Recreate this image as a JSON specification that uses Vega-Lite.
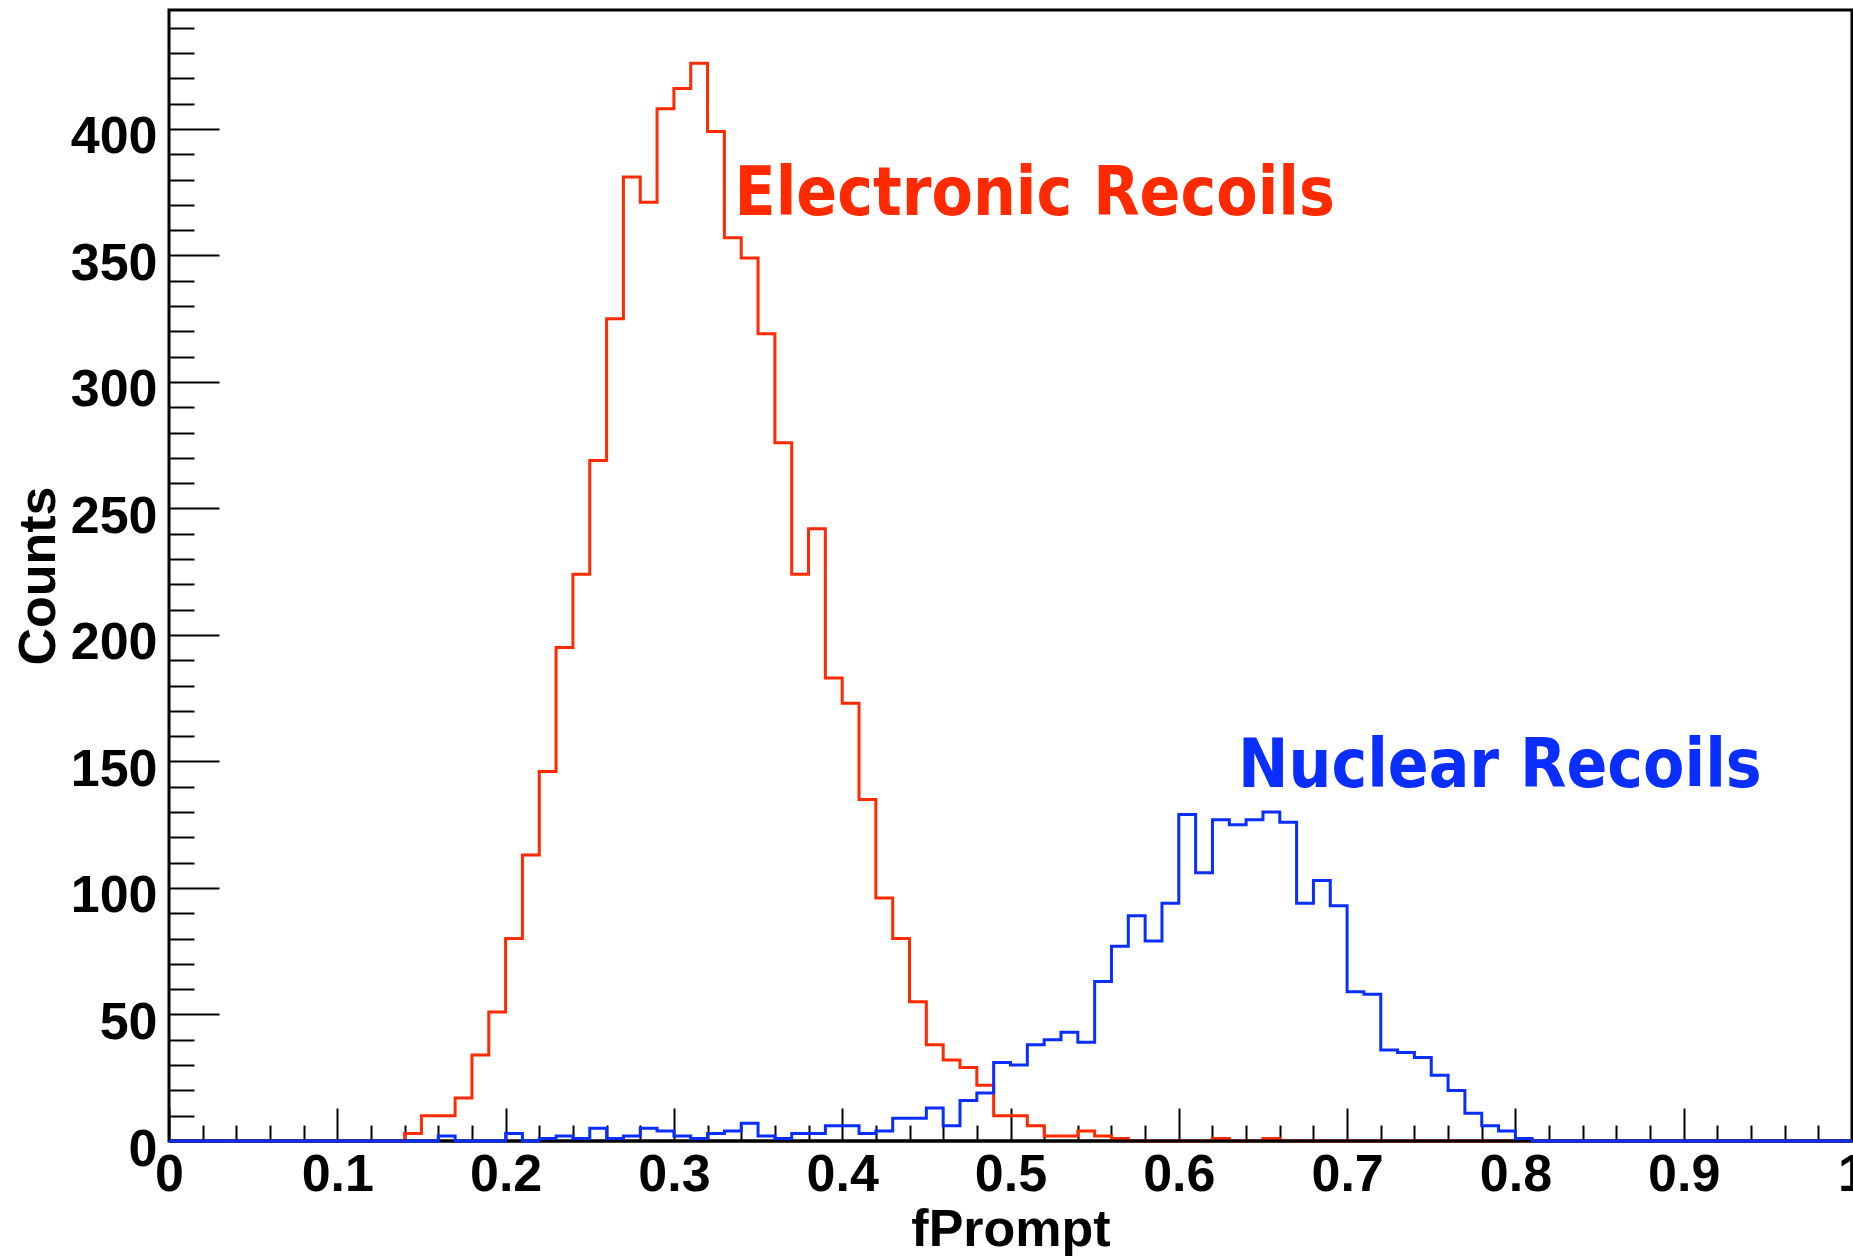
{
  "$schema": "https://vega.github.io/schema/vega-lite/v6.json",
  "width": 1683,
  "height": 1131,
  "autosize": {"type": "none"},
  "padding": {"left": 169, "top": 10, "right": 1, "bottom": 115},
  "background": "white",
  "config": {"view": {"stroke": "black", "strokeWidth": 3}},
  "datasets": {
    "er": [
      {"x":0,"n":0},{"x":0.01,"n":0},{"x":0.02,"n":0},{"x":0.03,"n":0},{"x":0.04,"n":0},{"x":0.05,"n":0},{"x":0.06,"n":0},{"x":0.07,"n":0},{"x":0.08,"n":0},{"x":0.09,"n":0},
      {"x":0.1,"n":0},{"x":0.11,"n":0},{"x":0.12,"n":0},{"x":0.13,"n":0},{"x":0.14,"n":3},{"x":0.15,"n":10},{"x":0.16,"n":10},{"x":0.17,"n":17},{"x":0.18,"n":34},{"x":0.19,"n":51},
      {"x":0.2,"n":80},{"x":0.21,"n":113},{"x":0.22,"n":146},{"x":0.23,"n":195},{"x":0.24,"n":224},{"x":0.25,"n":269},{"x":0.26,"n":325},{"x":0.27,"n":381},{"x":0.28,"n":371},{"x":0.29,"n":408},
      {"x":0.3,"n":416},{"x":0.31,"n":426},{"x":0.32,"n":399},{"x":0.33,"n":357},{"x":0.34,"n":349},{"x":0.35,"n":319},{"x":0.36,"n":276},{"x":0.37,"n":224},{"x":0.38,"n":242},{"x":0.39,"n":183},
      {"x":0.4,"n":173},{"x":0.41,"n":135},{"x":0.42,"n":96},{"x":0.43,"n":80},{"x":0.44,"n":55},{"x":0.45,"n":38},{"x":0.46,"n":32},{"x":0.47,"n":29},{"x":0.48,"n":22},{"x":0.49,"n":10},
      {"x":0.5,"n":10},{"x":0.51,"n":6},{"x":0.52,"n":2},{"x":0.53,"n":2},{"x":0.54,"n":4},{"x":0.55,"n":2},{"x":0.56,"n":1},{"x":0.57,"n":0},{"x":0.58,"n":0},{"x":0.59,"n":0},
      {"x":0.6,"n":0},{"x":0.61,"n":0},{"x":0.62,"n":1},{"x":0.63,"n":0},{"x":0.64,"n":0},{"x":0.65,"n":1},{"x":0.66,"n":0},{"x":0.67,"n":0},{"x":0.68,"n":0},{"x":0.69,"n":0},
      {"x":0.7,"n":0},{"x":0.71,"n":0},{"x":0.72,"n":0},{"x":0.73,"n":0},{"x":0.74,"n":0},{"x":0.75,"n":0},{"x":0.76,"n":0},{"x":0.77,"n":0},{"x":0.78,"n":0},{"x":0.79,"n":0},
      {"x":0.8,"n":0},{"x":0.81,"n":0},{"x":0.82,"n":0},{"x":0.83,"n":0},{"x":0.84,"n":0},{"x":0.85,"n":0},{"x":0.86,"n":0},{"x":0.87,"n":0},{"x":0.88,"n":0},{"x":0.89,"n":0},
      {"x":0.9,"n":0},{"x":0.91,"n":0},{"x":0.92,"n":0},{"x":0.93,"n":0},{"x":0.94,"n":0},{"x":0.95,"n":0},{"x":0.96,"n":0},{"x":0.97,"n":0},{"x":0.98,"n":0},{"x":0.99,"n":0},
      {"x":1,"n":0}
    ],
    "nr": [
      {"x":0,"n":0},{"x":0.01,"n":0},{"x":0.02,"n":0},{"x":0.03,"n":0},{"x":0.04,"n":0},{"x":0.05,"n":0},{"x":0.06,"n":0},{"x":0.07,"n":0},{"x":0.08,"n":0},{"x":0.09,"n":0},
      {"x":0.1,"n":0},{"x":0.11,"n":0},{"x":0.12,"n":0},{"x":0.13,"n":0},{"x":0.14,"n":0},{"x":0.15,"n":0},{"x":0.16,"n":2},{"x":0.17,"n":0},{"x":0.18,"n":0},{"x":0.19,"n":0},
      {"x":0.2,"n":3},{"x":0.21,"n":0},{"x":0.22,"n":1},{"x":0.23,"n":2},{"x":0.24,"n":1},{"x":0.25,"n":5},{"x":0.26,"n":1},{"x":0.27,"n":2},{"x":0.28,"n":5},{"x":0.29,"n":4},
      {"x":0.3,"n":2},{"x":0.31,"n":1},{"x":0.32,"n":3},{"x":0.33,"n":4},{"x":0.34,"n":7},{"x":0.35,"n":2},{"x":0.36,"n":1},{"x":0.37,"n":3},{"x":0.38,"n":3},{"x":0.39,"n":6},
      {"x":0.4,"n":6},{"x":0.41,"n":3},{"x":0.42,"n":4},{"x":0.43,"n":9},{"x":0.44,"n":9},{"x":0.45,"n":13},{"x":0.46,"n":6},{"x":0.47,"n":16},{"x":0.48,"n":19},{"x":0.49,"n":31},
      {"x":0.5,"n":30},{"x":0.51,"n":38},{"x":0.52,"n":40},{"x":0.53,"n":43},{"x":0.54,"n":39},{"x":0.55,"n":63},{"x":0.56,"n":77},{"x":0.57,"n":89},{"x":0.58,"n":79},{"x":0.59,"n":94},
      {"x":0.6,"n":129},{"x":0.61,"n":106},{"x":0.62,"n":127},{"x":0.63,"n":125},{"x":0.64,"n":127},{"x":0.65,"n":130},{"x":0.66,"n":126},{"x":0.67,"n":94},{"x":0.68,"n":103},{"x":0.69,"n":93},
      {"x":0.7,"n":59},{"x":0.71,"n":58},{"x":0.72,"n":36},{"x":0.73,"n":35},{"x":0.74,"n":33},{"x":0.75,"n":26},{"x":0.76,"n":20},{"x":0.77,"n":11},{"x":0.78,"n":6},{"x":0.79,"n":4},
      {"x":0.8,"n":1},{"x":0.81,"n":0},{"x":0.82,"n":0},{"x":0.83,"n":0},{"x":0.84,"n":0},{"x":0.85,"n":0},{"x":0.86,"n":0},{"x":0.87,"n":0},{"x":0.88,"n":0},{"x":0.89,"n":0},
      {"x":0.9,"n":0},{"x":0.91,"n":0},{"x":0.92,"n":0},{"x":0.93,"n":0},{"x":0.94,"n":0},{"x":0.95,"n":0},{"x":0.96,"n":0},{"x":0.97,"n":0},{"x":0.98,"n":0},{"x":0.99,"n":0},
      {"x":1,"n":0}
    ]
  },
  "layer": [
    {
      "data": {"name": "er"},
      "mark": {"type": "line", "interpolate": "step-after", "color": "#ff2a00", "strokeWidth": 3},
      "encoding": {
        "x": {
          "field": "x", "type": "quantitative",
          "scale": {"domain": [0, 1], "nice": false, "zero": false},
          "axis": {
            "values": [0,0.02,0.04,0.06,0.08,0.1,0.12,0.14,0.16,0.18,0.2,0.22,0.24,0.26,0.28,0.3,0.32,0.34,0.36,0.38,0.4,0.42,0.44,0.46,0.48,0.5,0.52,0.54,0.56,0.58,0.6,0.62,0.64,0.66,0.68,0.7,0.72,0.74,0.76,0.78,0.8,0.82,0.84,0.86,0.88,0.9,0.92,0.94,0.96,0.98,1],
            "tickCount": 200,
            "format": "~g",
            "labelExpr": "abs(datum.value*10 - round(datum.value*10)) < 0.001 ? datum.label : ''",
            "tickSize": {"condition": {"test": "abs(datum.value*10 - round(datum.value*10)) < 0.001", "value": -33}, "value": -16},
            "tickWidth": 2, "tickColor": "black",
            "domain": false, "grid": false,
            "labelFont": "Liberation Sans", "labelFontWeight": "bold", "labelFontSize": 52, "labelColor": "black",
            "labelPadding": 41, "labelFlush": false, "labelOverlap": false, "labelBound": false,
            "title": "fPrompt",
            "titleFont": "Liberation Sans", "titleFontWeight": "bold", "titleFontSize": 52, "titleColor": "black",
            "titlePadding": -13
          }
        },
        "y": {
          "field": "n", "type": "quantitative",
          "scale": {"domain": [0, 447], "nice": false},
          "axis": {
            "values": [0,10,20,30,40,50,60,70,80,90,100,110,120,130,140,150,160,170,180,190,200,210,220,230,240,250,260,270,280,290,300,310,320,330,340,350,360,370,380,390,400,410,420,430,440],
            "tickCount": 200,
            "format": "d",
            "labelExpr": "datum.value % 50 === 0 ? datum.label : ''",
            "tickSize": {"condition": {"test": "datum.value % 50 === 0", "value": -50}, "value": -25},
            "tickWidth": 2, "tickColor": "black",
            "domain": false, "grid": false,
            "labelFont": "Liberation Sans", "labelFontWeight": "bold", "labelFontSize": 52, "labelColor": "black",
            "labelPadding": 62, "labelOffset": 8, "labelFlush": false, "labelOverlap": false, "labelBound": false,
            "title": "Counts",
            "titleFont": "Liberation Sans", "titleFontWeight": "bold", "titleFontSize": 52, "titleColor": "black",
            "titlePadding": 5
          }
        }
      }
    },
    {
      "data": {"values": [{}]},
      "mark": {"type": "rule", "color": "black", "strokeWidth": 3},
      "encoding": {"y": {"datum": 0}}
    },
    {
      "data": {"name": "nr"},
      "mark": {"type": "line", "interpolate": "step-after", "color": "#0a2eff", "strokeWidth": 3},
      "encoding": {
        "x": {"field": "x", "type": "quantitative"},
        "y": {"field": "n", "type": "quantitative"}
      }
    },
    {
      "data": {"values": [{}]},
      "mark": {"type": "text", "text": "Electronic Recoils", "font": "Liberation Sans Narrow, DejaVu Sans Condensed, Liberation Sans", "fontWeight": "bold", "fontSize": 67, "color": "#ff2a00", "align": "left", "baseline": "alphabetic"},
      "encoding": {"x": {"datum": 0.336}, "y": {"datum": 366}}
    },
    {
      "data": {"values": [{}]},
      "mark": {"type": "text", "text": "Nuclear Recoils", "font": "Liberation Sans Narrow, DejaVu Sans Condensed, Liberation Sans", "fontWeight": "bold", "fontSize": 67, "color": "#0a2eff", "align": "left", "baseline": "alphabetic"},
      "encoding": {"x": {"datum": 0.6352}, "y": {"datum": 140}}
    }
  ]
}
